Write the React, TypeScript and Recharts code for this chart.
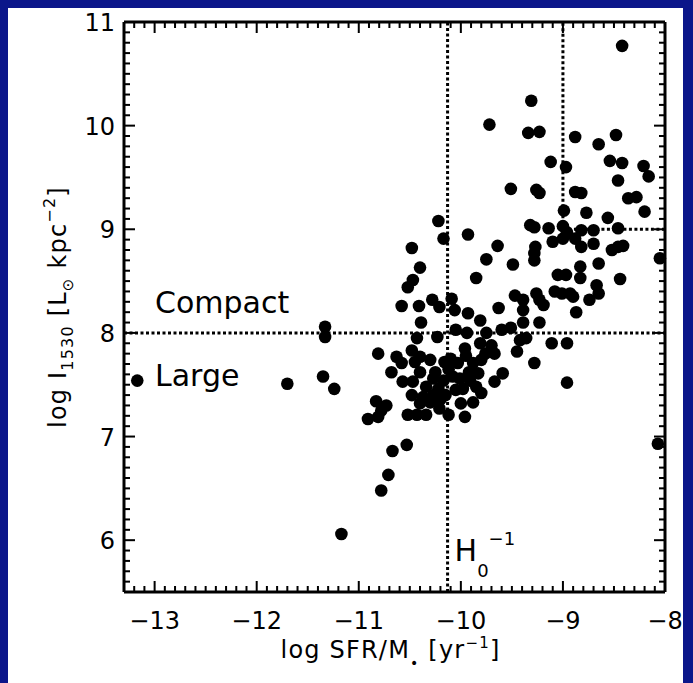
import React from 'react';
import { ScatterChart, Scatter, XAxis, YAxis, ReferenceLine, Label } from 'recharts';

// log SFR/M* [yr^-1]
const logSSFR = [
  -13.17, -11.70, -11.17, -10.78,
  -10.22, -10.17, -10.48, -10.40, -10.47, -10.52, -10.58, -10.41, -10.28, -10.21, -10.09, -10.06, -10.39, -11.33,
  -11.33, -10.23, -10.05, -10.43, -10.81, -10.63, -10.48, -10.40, -10.30, -10.58, -10.45, -10.16, -10.68, -10.40,
  -11.35, -11.24, -10.57, -10.47, -10.27, -10.17, -10.08, -10.34, -10.22, -10.48, -10.37, -10.27, -10.40, -10.83,
  -10.73, -10.78, -10.91, -10.81, -10.52, -10.43, -10.34, -10.21, -10.12, -10.00, -10.53, -10.67, -10.71,
  -9.31, -9.72, -9.34, -9.23, -9.12, -8.97, -9.51, -9.26, -9.23, -8.99, -9.93, -9.32, -9.28, -9.14, -9.00, -8.96,
  -9.00, -9.10, -9.64, -9.75, -9.49, -9.27, -9.28, -9.28, -9.85, -9.05, -8.97, -9.93, -9.81, -9.63, -9.47, -9.39,
  -9.39, -9.26, -9.23, -9.19, -9.08, -9.01, -9.39, -9.23, -9.51, -9.60,
  -9.94, -9.75, -9.42, -9.36, -9.45, -9.11, -8.96, -9.28, -8.96, -9.96, -9.81, -9.70, -9.67, -9.76, -10.03, -9.88,
  -9.80, -9.83, -9.59, -9.67, -10.01, -9.91, -9.98, -9.80, -9.88, -9.96,
  -8.42, -8.88, -8.65, -8.48, -8.54, -8.42, -8.46, -8.21, -8.16, -8.88, -8.82, -8.36, -8.28, -8.20, -8.77, -8.56,
  -8.46, -8.82, -8.70, -8.88, -8.82, -8.70, -8.52, -8.46, -8.41, -8.05, -8.65, -8.83, -8.83, -8.44, -8.67, -8.65,
  -8.93, -8.90, -8.74, -8.87,
  -8.07,
  -10.25, -10.12, -10.05, -9.92, -10.15, -10.30, -10.20, -9.85, -10.10, -9.95,
];

// log I_1530 [L_sun kpc^-2]
const logI1530 = [
  7.54, 7.51, 6.06, 6.48,
  9.08, 8.91, 8.82, 8.63, 8.51, 8.44, 8.26, 8.26, 8.32, 8.25, 8.33, 8.22, 8.10, 8.06,
  7.96, 7.96, 8.03, 7.95, 7.80, 7.77, 7.83, 7.77, 7.74, 7.71, 7.72, 7.72, 7.62, 7.62,
  7.58, 7.46, 7.53, 7.53, 7.56, 7.54, 7.58, 7.48, 7.46, 7.40, 7.38, 7.40, 7.32, 7.34,
  7.30, 7.25, 7.17, 7.19, 7.21, 7.21, 7.21, 7.27, 7.21, 7.32, 6.92, 6.86, 6.63,
  10.24, 10.01, 9.93, 9.94, 9.65, 9.60, 9.39, 9.38, 9.35, 9.18, 8.95, 9.04, 9.02, 9.01, 9.03, 8.97,
  8.91, 8.88, 8.84, 8.71, 8.66, 8.83, 8.77, 8.70, 8.53, 8.56, 8.56, 8.19, 8.12, 8.24, 8.36, 8.32,
  8.22, 8.38, 8.32, 8.27, 8.40, 8.38, 8.10, 8.10, 8.05, 8.03,
  8.00, 8.00, 7.93, 7.95, 7.82, 7.90, 7.90, 7.71, 7.52, 7.85, 7.90, 7.88, 7.80, 7.80, 7.71, 7.71,
  7.74, 7.61, 7.61, 7.53, 7.56, 7.54, 7.46, 7.42, 7.33, 7.19,
  10.77, 9.89, 9.82, 9.91, 9.66, 9.64, 9.47, 9.61, 9.51, 9.36, 9.35, 9.30, 9.31, 9.17, 9.16, 9.11,
  9.01, 8.99, 8.99, 8.91, 8.83, 8.86, 8.80, 8.83, 8.84, 8.72, 8.67, 8.64, 8.53, 8.52, 8.46, 8.38,
  8.38, 8.35, 8.32, 8.20,
  6.93,
  7.62, 7.65, 7.45, 7.62, 7.40, 7.33, 7.36, 7.48, 7.75, 7.78,
];

const xDomain = [-13.3, -8];
const yDomain = [5.5, 11];
const xMajorTicks = [-13, -12, -11, -10, -9, -8];
const yMajorTicks = [6, 7, 8, 9, 10, 11];

// reference lines
const hubbleTimeX = -10.13;
const sizeDividerY = 8;
const quadrantCorner = { x: -9, y: 9 };

// annotation texts
const compactText = 'Compact';
const largeText = 'Large';

const FONT = '"DejaVu Sans", "Liberation Sans", sans-serif';

const buildMinor = (lo: number, hi: number) => {
  const out: number[] = [];
  for (let i = Math.round(lo * 10); i <= Math.round(hi * 10); i++) out.push(i / 10);
  return out;
};
const xTicks = buildMinor(xDomain[0], xDomain[1]);
const yTicks = buildMinor(yDomain[0], yDomain[1]);

const data = logSSFR.map((x, i) => ({ x, y: logI1530[i] }));

const isMajorX = (v: number) => xMajorTicks.some((t) => Math.abs(v - t) < 1e-6);
const isMajorY = (v: number) => yMajorTicks.some((t) => Math.abs(v - t) < 1e-6);

const fmt = (v: number) => {
  const r = Math.round(v);
  return r < 0 ? '\u2212' + Math.abs(r) : String(r);
};

const BottomTick = (p: any) => {
  const x = Number(p.x);
  const y = Number(p.y);
  const v = p.payload.value;
  const m = isMajorX(v);
  const len = m ? 11 : 6;
  return (
    <g>
      <rect x={x - 1} y={y - len} width={2} height={len} fill="#000" stroke="none" />
      <rect x={x - 1} y={y - 570} width={2} height={len} fill="#000" stroke="none" />
      {m && (
        <text x={x} y={y + 37} textAnchor="middle" fontFamily={FONT} fontSize={24} fill="#000" stroke="none">
          {fmt(v)}
        </text>
      )}
    </g>
  );
};
const LeftTick = (p: any) => {
  const x = Number(p.x);
  const y = Number(p.y);
  const v = p.payload.value;
  const m = isMajorY(v);
  const len = m ? 11 : 6;
  return (
    <g>
      <rect x={x} y={y - 1} width={len} height={2} fill="#000" stroke="none" />
      <rect x={x + 541 - len} y={y - 1} width={len} height={2} fill="#000" stroke="none" />
      {m && (
        <text x={x - 9} y={y + 9} textAnchor="end" fontFamily={FONT} fontSize={24} fill="#000" stroke="none">
          {fmt(v)}
        </text>
      )}
    </g>
  );
};

const YTitle = (p: any) => {
  const vb = p.viewBox || { x: 0, y: 0, width: 0, height: 0 };
  const cx = vb.x + 58;
  const cy = vb.y + vb.height / 2;
  return (
    <text
      x={cx}
      y={cy}
      transform={`rotate(-90, ${cx}, ${cy})`}
      textAnchor="middle"
      fontFamily={FONT}
      fontSize={24}
      letterSpacing={1.2}
      fill="#000"
    >
      <tspan>log I</tspan>
      <tspan fontSize={16} dy={7}>1530</tspan>
      <tspan dy={-7}> [L</tspan>
      <tspan fontSize={15} dy={7}>{'\u2299'}</tspan>
      <tspan dy={-7}> kpc</tspan>
      <tspan fontSize={16} dy={-11}>{'\u22122'}</tspan>
      <tspan dy={11}>]</tspan>
    </text>
  );
};

const XTitle = (p: any) => {
  const vb = p.viewBox || { x: 0, y: 0, width: 0, height: 0 };
  const cx = vb.x + vb.width / 2 - 4;
  const cy = vb.y + 66;
  return (
    <text x={cx} y={cy} textAnchor="middle" fontFamily={FONT} fontSize={24} letterSpacing={1.2} fill="#000">
      <tspan>log SFR/M</tspan>
      <tspan fontSize={14} dy={10}>{'\u2022'}</tspan>
      <tspan dy={-10}> [yr</tspan>
      <tspan fontSize={15} dy={-10}>{'\u22121'}</tspan>
      <tspan dy={10}>]</tspan>
    </text>
  );
};

const SizeLabels = (p: any) => {
  const vb = p.viewBox || { x: 0, y: 0, width: 0, height: 0 };
  return (
    <g>
      <text x={vb.x + 31} y={vb.y - 20} fontFamily={FONT} fontSize={30} fill="#000">{compactText}</text>
      <text x={vb.x + 31} y={vb.y + 53} fontFamily={FONT} fontSize={30} fill="#000">{largeText}</text>
    </g>
  );
};

const HubbleLabel = (p: any) => {
  const vb = p.viewBox || { x: 0, y: 0, width: 0, height: 0 };
  return (
    <text x={vb.x + 7} y={vb.y + vb.height - 31} fontFamily={FONT} fontSize={30} fill="#000">
      <tspan>H</tspan>
      <tspan fontSize={18} dy={16}>0</tspan>
      <tspan fontSize={18} dy={-32}>{'\u22121'}</tspan>
    </text>
  );
};

const Dot = (p: any) => <circle cx={p.cx} cy={p.cy} r={6.3} fill="#000" />;

const dotted = { stroke: '#000', strokeWidth: 3, strokeDasharray: '3 2.5' };
const frameLine = { stroke: '#000', strokeWidth: 3 };

export default function App() {
  return (
    <div style={{ position: 'absolute', left: 0, top: 0, width: 693, height: 683, background: '#0b168a' }}>
      <div style={{ position: 'absolute', left: 8, top: 8, width: 675, height: 675, background: '#fff' }}>
        <ScatterChart width={675} height={675} margin={{ top: 14, right: 18, bottom: 0, left: 0 }}>
          <XAxis
            xAxisId="b"
            dataKey="x"
            type="number"
            domain={xDomain}
            ticks={xTicks}
            interval={0}
            height={91}
            tickSize={0}
            tickMargin={0}
            tickLine={false}
            axisLine={frameLine}
            tick={BottomTick}
          >
            <Label content={XTitle} />
          </XAxis>
          <YAxis
            yAxisId="l"
            dataKey="y"
            type="number"
            domain={yDomain}
            ticks={yTicks}
            interval={0}
            width={116}
            tickSize={0}
            tickMargin={0}
            tickLine={false}
            axisLine={frameLine}
            tick={LeftTick}
          >
            <Label content={YTitle} />
          </YAxis>
          <ReferenceLine xAxisId="b" yAxisId="l" y={yDomain[1]} {...frameLine} />
          <ReferenceLine xAxisId="b" yAxisId="l" x={xDomain[1]} {...frameLine} />
          <ReferenceLine xAxisId="b" yAxisId="l" x={hubbleTimeX} {...dotted}>
            <Label content={HubbleLabel} />
          </ReferenceLine>
          <ReferenceLine xAxisId="b" yAxisId="l" y={sizeDividerY} {...dotted}>
            <Label content={SizeLabels} />
          </ReferenceLine>
          <ReferenceLine
            xAxisId="b"
            yAxisId="l"
            segment={[{ x: quadrantCorner.x, y: quadrantCorner.y }, { x: quadrantCorner.x, y: yDomain[1] }]}
            {...dotted}
          />
          <ReferenceLine
            xAxisId="b"
            yAxisId="l"
            segment={[{ x: quadrantCorner.x, y: quadrantCorner.y }, { x: xDomain[1], y: quadrantCorner.y }]}
            {...dotted}
          />
          <Scatter xAxisId="b" yAxisId="l" data={data} fill="#000" shape={Dot} isAnimationActive={false} />
        </ScatterChart>
      </div>
    </div>
  );
}
